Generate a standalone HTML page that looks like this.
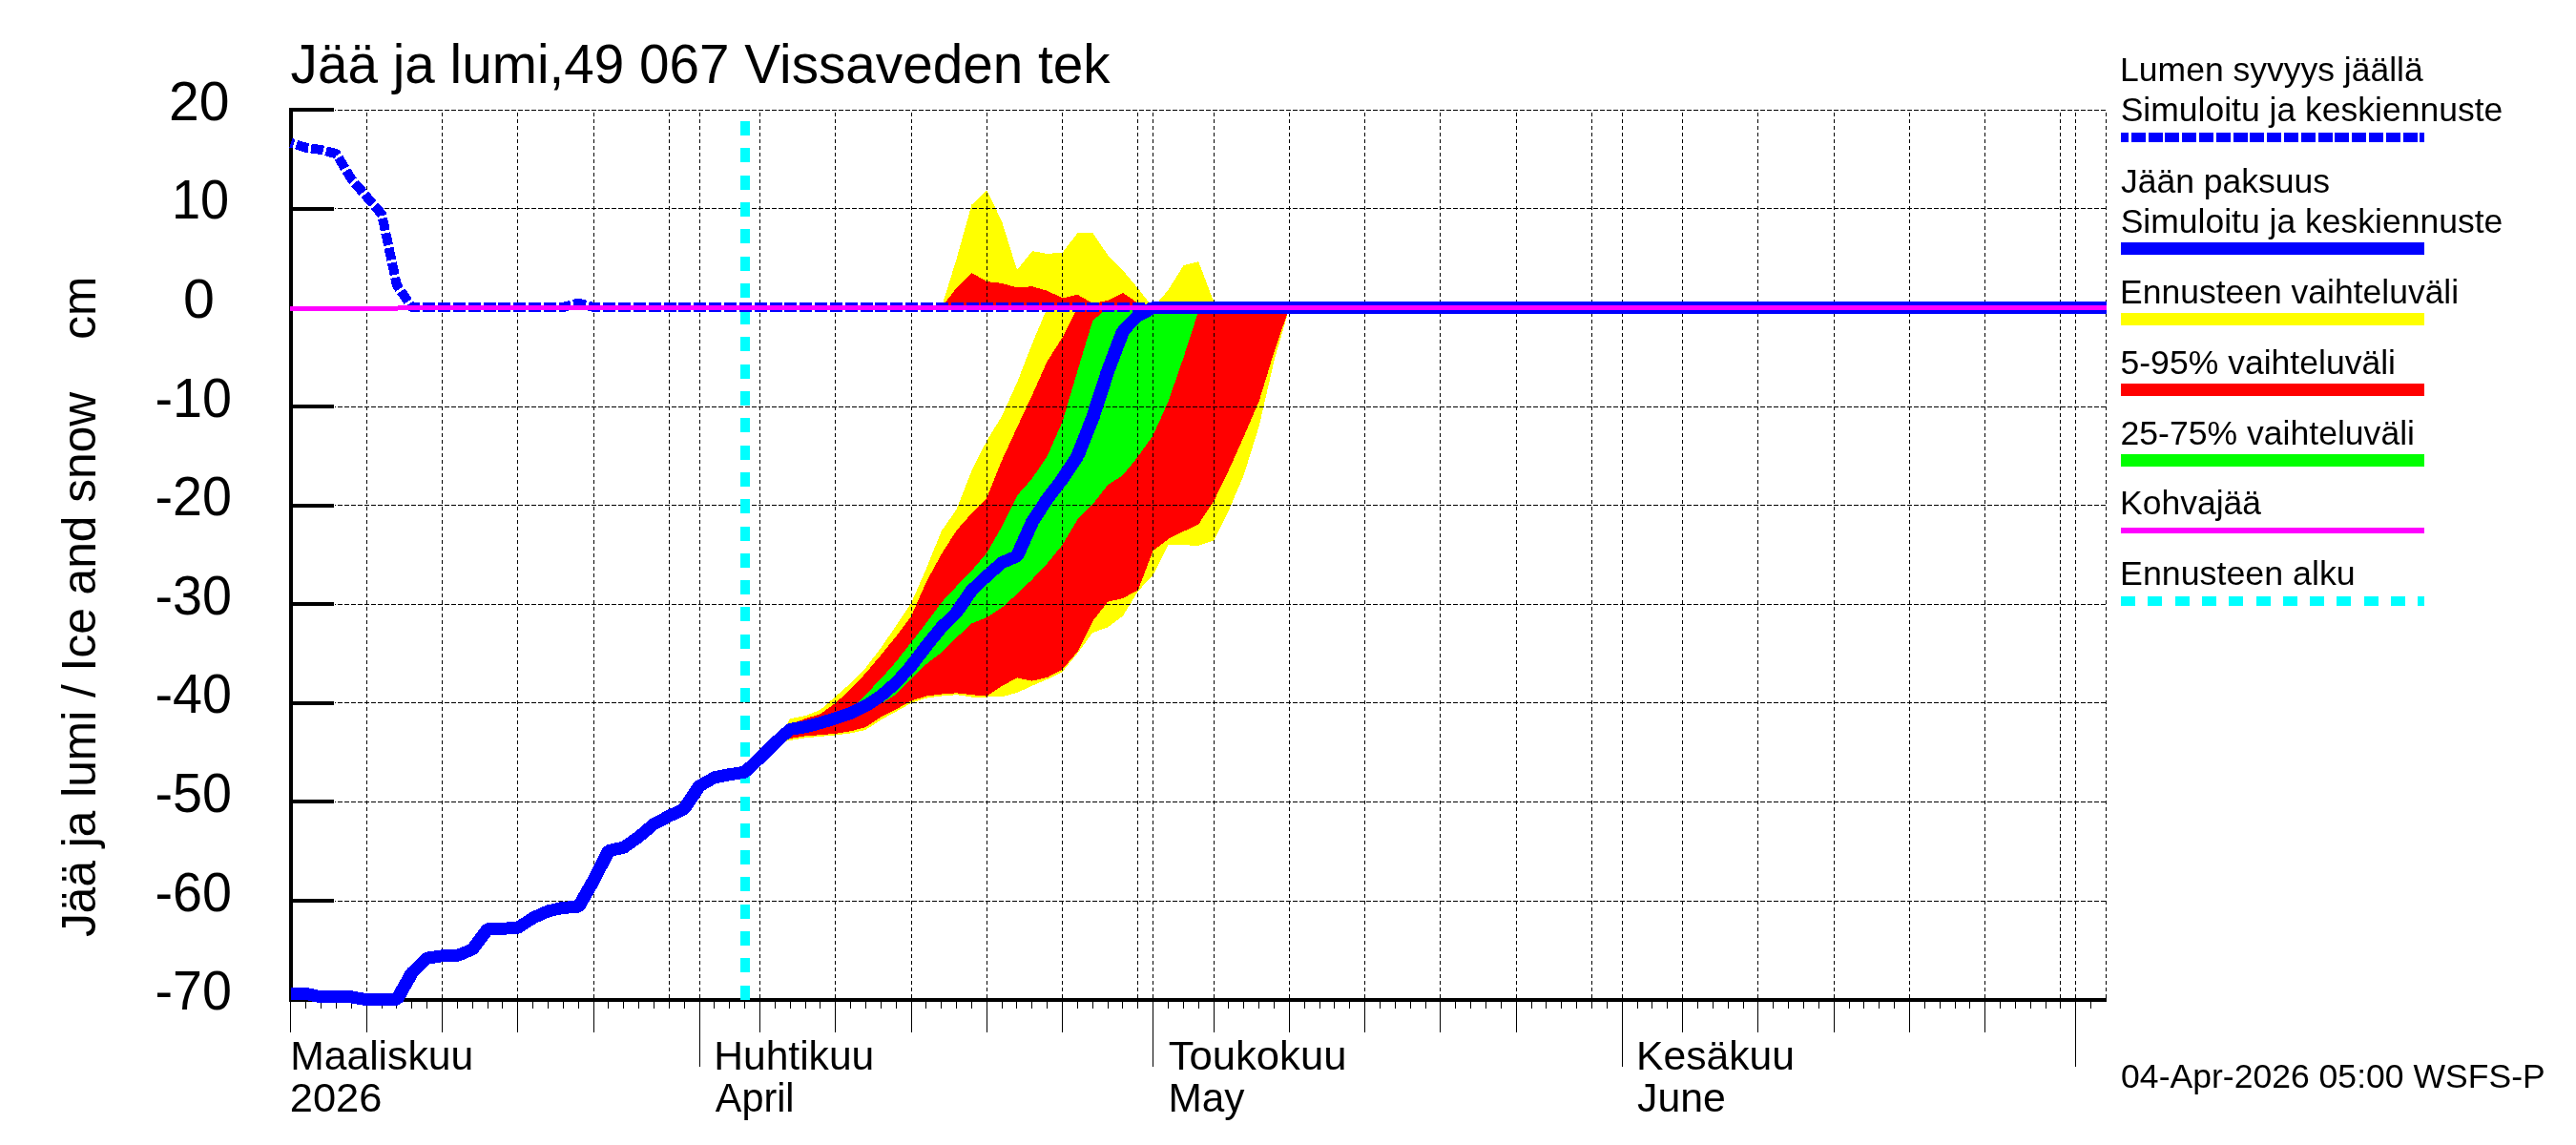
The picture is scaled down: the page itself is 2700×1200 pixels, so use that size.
<!DOCTYPE html>
<html lang="fi"><head><meta charset="utf-8"><title>Jää ja lumi, 49 067 Vissaveden tek</title>
<style>html,body{margin:0;padding:0;background:#fff;}body{width:2700px;height:1200px;overflow:hidden;}svg{display:block;}text{font-family:"Liberation Sans",sans-serif;fill:#000;}svg{will-change:transform;}</style></head><body>
<svg width="2700" height="1200" viewBox="0 0 2700 1200">
<rect x="0" y="0" width="2700" height="1200" fill="#ffffff"/>
<g shape-rendering="crispEdges">
<polygon points="812.3,778.6 828.2,753.3 844.0,750.2 859.9,743.9 875.7,729.9 891.6,716.0 907.4,699.9 923.3,678.9 939.2,655.9 955.0,632.0 970.9,596.0 986.7,556.6 1002.6,533.8 1018.4,493.3 1034.3,462.0 1050.1,436.0 1066.0,401.0 1081.8,360.3 1097.7,322.5 1351.4,322.5 1351.4,322.5 1335.5,378.0 1319.7,446.5 1303.8,497.5 1288.0,534.8 1272.1,566.5 1256.2,571.9 1240.4,571.2 1224.5,571.2 1208.7,602.4 1192.8,619.6 1177.0,645.5 1161.1,657.5 1145.3,663.0 1129.4,684.5 1113.6,704.0 1097.7,712.0 1081.8,718.7 1066.0,726.0 1050.1,730.3 1034.3,730.5 1018.4,730.5 1002.6,728.2 986.7,729.5 970.9,731.6 955.0,737.0 939.2,745.7 923.3,754.4 907.4,764.9 891.6,768.4 875.7,770.5 859.9,771.9 844.0,773.3 828.2,776.0 812.3,778.6" fill="#ffff00"/>
<polygon points="812.3,778.6 828.2,759.0 844.0,753.3 859.9,748.1 875.7,736.9 891.6,722.2 907.4,705.5 923.3,686.6 939.2,667.0 955.0,646.0 970.9,610.0 986.7,580.9 1002.6,555.8 1018.4,538.0 1034.3,522.0 1050.1,482.5 1066.0,448.0 1081.8,414.1 1097.7,378.5 1113.6,353.6 1129.4,322.5 1351.4,322.5 1351.4,322.5 1335.5,368.7 1319.7,420.4 1303.8,457.3 1288.0,492.6 1272.1,525.5 1256.2,549.5 1240.4,557.0 1224.5,565.0 1208.7,577.0 1192.8,618.4 1177.0,627.0 1161.1,630.7 1145.3,651.0 1129.4,683.0 1113.6,701.5 1097.7,710.0 1081.8,713.6 1066.0,710.4 1050.1,719.0 1034.3,729.6 1018.4,728.2 1002.6,726.3 986.7,727.5 970.9,729.5 955.0,734.5 939.2,743.5 923.3,751.6 907.4,762.1 891.6,766.3 875.7,768.8 859.9,770.2 844.0,771.4 828.2,774.0 812.3,778.6" fill="#ff0000"/>
<polygon points="875.7,752.8 891.6,745.0 907.4,727.8 923.3,711.5 939.2,693.5 955.0,673.3 970.9,653.0 986.7,631.5 1002.6,614.4 1018.4,598.0 1034.3,579.5 1050.1,552.0 1066.0,519.5 1081.8,501.5 1097.7,478.0 1113.6,441.8 1129.4,388.5 1145.3,336.0 1161.1,322.5 1272.1,322.5 1272.1,322.5 1256.2,326.0 1240.4,375.0 1224.5,420.8 1208.7,456.0 1192.8,478.5 1177.0,498.0 1161.1,508.2 1145.3,528.5 1129.4,544.5 1113.6,571.0 1097.7,590.5 1081.8,607.3 1066.0,622.5 1050.1,636.8 1034.3,647.0 1018.4,653.5 1002.6,668.2 986.7,684.0 970.9,696.0 955.0,711.3 939.2,727.8 923.3,737.6 907.4,742.0 891.6,748.0 875.7,752.8" fill="#00ff00"/>
<polygon points="986.7,322.5 1002.6,271.3 1018.4,214.6 1034.3,199.1 1050.1,232.2 1066.0,283.0 1081.8,263.2 1097.7,265.9 1113.6,264.8 1129.4,244.1 1145.3,244.1 1161.1,267.2 1177.0,283.5 1192.8,302.3 1208.7,322.5 1224.5,303.9 1240.4,278.3 1256.2,274.1 1272.1,316.0 1288.0,322.5 1288.0,322.5 986.7,322.5" fill="#ffff00"/>
<polygon points="986.7,322.5 1002.6,301.5 1018.4,286.0 1034.3,295.0 1050.1,296.9 1066.0,301.5 1081.8,300.2 1097.7,304.7 1113.6,312.4 1129.4,308.8 1145.3,317.8 1161.1,315.0 1177.0,306.9 1192.8,317.8 1208.7,322.5 1208.7,322.5 986.7,322.5" fill="#ff0000"/>
<path d="M384.5,116.0 V1046.0 M463.5,116.0 V1046.0 M542.5,116.0 V1046.0 M622.5,116.0 V1046.0 M701.5,116.0 V1046.0 M733.5,116.0 V1046.0 M796.5,116.0 V1046.0 M875.5,116.0 V1046.0 M955.5,116.0 V1046.0 M1034.5,116.0 V1046.0 M1113.5,116.0 V1046.0 M1192.5,116.0 V1046.0 M1208.5,116.0 V1046.0 M1272.5,116.0 V1046.0 M1351.5,116.0 V1046.0 M1430.5,116.0 V1046.0 M1509.5,116.0 V1046.0 M1589.5,116.0 V1046.0 M1668.5,116.0 V1046.0 M1700.5,116.0 V1046.0 M1763.5,116.0 V1046.0 M1842.5,116.0 V1046.0 M1922.5,116.0 V1046.0 M2001.5,116.0 V1046.0 M2080.5,116.0 V1046.0 M2159.5,116.0 V1046.0 M2175.5,116.0 V1046.0 M2207.5,116.0 V1046.0" stroke="#000" stroke-width="1" fill="none" stroke-dasharray="4 3" stroke-dashoffset="5"/>
<path d="M351.0,115.5 H2208.0 M351.0,218.5 H2208.0 M351.0,322.5 H2208.0 M351.0,426.5 H2208.0 M351.0,529.5 H2208.0 M351.0,633.5 H2208.0 M351.0,736.5 H2208.0 M351.0,840.5 H2208.0 M351.0,944.5 H2208.0" stroke="#000" stroke-width="1" fill="none" stroke-dasharray="5 2" stroke-dashoffset="4"/>
<rect x="303" y="113" width="4" height="937" fill="#000"/>
<rect x="303" y="1046" width="1905" height="4" fill="#000"/>
<rect x="303" y="113" width="47" height="4" fill="#000"/>
<rect x="303" y="217" width="47" height="4" fill="#000"/>
<rect x="303" y="424" width="47" height="4" fill="#000"/>
<rect x="303" y="528" width="47" height="4" fill="#000"/>
<rect x="303" y="631" width="47" height="4" fill="#000"/>
<rect x="303" y="735" width="47" height="4" fill="#000"/>
<rect x="303" y="838" width="47" height="4" fill="#000"/>
<rect x="303" y="942" width="47" height="4" fill="#000"/>
<path d="M304.5,1050 V1082 M320.5,1050 V1057 M336.5,1050 V1057 M352.5,1050 V1057 M368.5,1050 V1057 M384.5,1050 V1082 M400.5,1050 V1057 M415.5,1050 V1057 M431.5,1050 V1057 M447.5,1050 V1057 M463.5,1050 V1082 M479.5,1050 V1057 M495.5,1050 V1057 M511.5,1050 V1057 M526.5,1050 V1057 M542.5,1050 V1082 M558.5,1050 V1057 M574.5,1050 V1057 M590.5,1050 V1057 M606.5,1050 V1057 M622.5,1050 V1082 M637.5,1050 V1057 M653.5,1050 V1057 M669.5,1050 V1057 M685.5,1050 V1057 M701.5,1050 V1057 M717.5,1050 V1057 M733.5,1050 V1118 M748.5,1050 V1057 M764.5,1050 V1057 M780.5,1050 V1057 M796.5,1050 V1082 M812.5,1050 V1057 M828.5,1050 V1057 M844.5,1050 V1057 M859.5,1050 V1057 M875.5,1050 V1082 M891.5,1050 V1057 M907.5,1050 V1057 M923.5,1050 V1057 M939.5,1050 V1057 M955.5,1050 V1082 M970.5,1050 V1057 M986.5,1050 V1057 M1002.5,1050 V1057 M1018.5,1050 V1057 M1034.5,1050 V1082 M1050.5,1050 V1057 M1065.5,1050 V1057 M1081.5,1050 V1057 M1097.5,1050 V1057 M1113.5,1050 V1082 M1129.5,1050 V1057 M1145.5,1050 V1057 M1161.5,1050 V1057 M1176.5,1050 V1057 M1192.5,1050 V1057 M1208.5,1050 V1118 M1224.5,1050 V1057 M1240.5,1050 V1057 M1256.5,1050 V1057 M1272.5,1050 V1082 M1287.5,1050 V1057 M1303.5,1050 V1057 M1319.5,1050 V1057 M1335.5,1050 V1057 M1351.5,1050 V1082 M1367.5,1050 V1057 M1383.5,1050 V1057 M1398.5,1050 V1057 M1414.5,1050 V1057 M1430.5,1050 V1082 M1446.5,1050 V1057 M1462.5,1050 V1057 M1478.5,1050 V1057 M1494.5,1050 V1057 M1509.5,1050 V1082 M1525.5,1050 V1057 M1541.5,1050 V1057 M1557.5,1050 V1057 M1573.5,1050 V1057 M1589.5,1050 V1082 M1605.5,1050 V1057 M1620.5,1050 V1057 M1636.5,1050 V1057 M1652.5,1050 V1057 M1668.5,1050 V1057 M1684.5,1050 V1057 M1700.5,1050 V1118 M1716.5,1050 V1057 M1731.5,1050 V1057 M1747.5,1050 V1057 M1763.5,1050 V1082 M1779.5,1050 V1057 M1795.5,1050 V1057 M1811.5,1050 V1057 M1827.5,1050 V1057 M1842.5,1050 V1082 M1858.5,1050 V1057 M1874.5,1050 V1057 M1890.5,1050 V1057 M1906.5,1050 V1057 M1922.5,1050 V1082 M1938.5,1050 V1057 M1953.5,1050 V1057 M1969.5,1050 V1057 M1985.5,1050 V1057 M2001.5,1050 V1082 M2017.5,1050 V1057 M2033.5,1050 V1057 M2049.5,1050 V1057 M2064.5,1050 V1057 M2080.5,1050 V1082 M2096.5,1050 V1057 M2112.5,1050 V1057 M2128.5,1050 V1057 M2144.5,1050 V1057 M2159.5,1050 V1057 M2175.5,1050 V1118 M2191.5,1050 V1057" stroke="#000" stroke-width="1" fill="none"/>
</g>
<g shape-rendering="crispEdges" fill="none">
<path d="M781,1047.6 V116" stroke="#00ffff" stroke-width="10" stroke-dasharray="15 13.3"/>
<polyline points="304.9,149.8 320.8,154.8 336.7,157.0 352.5,161.2 368.4,187.8 384.2,206.1 400.1,224.5 415.9,298.8 431.8,322.0 590.3,322.0 606.2,317.5 622.0,322.0 1224.5,322.0" stroke="#0000ff" stroke-width="10" stroke-dasharray="13 2.855" stroke-dashoffset="9.75" stroke-linejoin="round"/>
<polyline points="304.9,1041.4 320.8,1041.4 336.7,1044.9 352.5,1044.9 368.4,1044.9 384.2,1047.7 400.1,1047.7 415.9,1047.7 431.8,1019.4 447.6,1004.1 463.5,1001.8 479.4,1001.4 495.2,995.0 511.1,973.6 526.9,973.2 542.8,972.4 558.6,962.0 574.5,954.9 590.3,951.2 606.2,950.6 622.0,923.0 637.9,891.5 653.8,888.2 669.6,877.0 685.5,863.4 701.3,855.3 717.2,847.6 733.0,823.8 748.9,814.8 764.7,811.7 780.6,809.2 796.5,794.5 812.3,778.6 828.2,764.4 844.0,761.7 859.9,757.7 875.7,752.8 891.6,747.5 907.4,739.8 923.3,729.3 939.2,715.5 955.0,697.9 970.9,677.0 986.7,657.5 1002.6,641.7 1018.4,618.6 1034.3,603.7 1050.1,589.7 1066.0,582.9 1081.8,547.3 1097.7,522.8 1113.6,502.0 1129.4,478.0 1145.3,437.8 1161.1,389.0 1177.0,347.0 1192.8,330.7 1208.7,322.6 2208.1,322.6" stroke="#0000ff" stroke-width="13" stroke-linejoin="bevel"/>
<path d="M415.9,1047.7 L431.8,1019.4" stroke="#0000ff" stroke-width="13.68"/>
<path d="M495.2,995.0 L511.1,973.6" stroke="#0000ff" stroke-width="13.37"/>
<path d="M606.2,950.6 L622.0,923.0" stroke="#0000ff" stroke-width="13.66"/>
<path d="M622.0,923.0 L637.9,891.5" stroke="#0000ff" stroke-width="13.79"/>
<path d="M717.2,847.6 L733.0,823.8" stroke="#0000ff" stroke-width="13.49"/>
<path d="M955.0,697.9 L970.9,677.0" stroke="#0000ff" stroke-width="13.34"/>
<path d="M970.9,677.0 L986.7,657.5" stroke="#0000ff" stroke-width="13.26"/>
<path d="M1002.6,641.7 L1018.4,618.6" stroke="#0000ff" stroke-width="13.46"/>
<path d="M1066.0,582.9 L1081.8,547.3" stroke="#0000ff" stroke-width="13.91"/>
<path d="M1081.8,547.3 L1097.7,522.8" stroke="#0000ff" stroke-width="13.52"/>
<path d="M1097.7,522.8 L1113.6,502.0" stroke="#0000ff" stroke-width="13.33"/>
<path d="M1113.6,502.0 L1129.4,478.0" stroke="#0000ff" stroke-width="13.50"/>
<path d="M1129.4,478.0 L1145.3,437.8" stroke="#0000ff" stroke-width="14.02"/>
<path d="M1145.3,437.8 L1161.1,389.0" stroke="#0000ff" stroke-width="14.17"/>
<path d="M1161.1,389.0 L1177.0,347.0" stroke="#0000ff" stroke-width="14.05"/>
<path d="M304,323.5 H417 M417,322.5 H2208" stroke="#ff00ff" stroke-width="5"/>
</g>
<g shape-rendering="crispEdges" fill="none">
<path d="M2223,144 H2541" stroke="#0000ff" stroke-width="10" stroke-dasharray="15 2.8" stroke-dashoffset="7"/>
<path d="M2223,260.5 H2541" stroke="#0000ff" stroke-width="13"/>
<path d="M2223,334.5 H2541" stroke="#ffff00" stroke-width="13"/>
<path d="M2223,408.5 H2541" stroke="#ff0000" stroke-width="13"/>
<path d="M2223,482 H2541" stroke="#00ff00" stroke-width="13"/>
<path d="M2223,556 H2541" stroke="#ff00ff" stroke-width="6"/>
<path d="M2223,630 H2541" stroke="#00ffff" stroke-width="10" stroke-dasharray="15 13.3"/>
</g>
<text id="title" x="304.60" y="87.00" font-size="57.10" textLength="859.01" lengthAdjust="spacingAndGlyphs">Jää ja lumi,49 067 Vissaveden tek</text>
<text id="yt20" x="177.00" y="125.70" font-size="57.10" textLength="63.53" lengthAdjust="spacingAndGlyphs">20</text>
<text id="yt10" x="180.00" y="228.70" font-size="57.10" textLength="60.21" lengthAdjust="spacingAndGlyphs">10</text>
<text id="yt0" x="192.00" y="332.70" font-size="57.10" textLength="32.95" lengthAdjust="spacingAndGlyphs">0</text>
<text id="ytm10" x="162.50" y="436.70" font-size="57.10" textLength="80.42" lengthAdjust="spacingAndGlyphs">-10</text>
<text id="ytm20" x="162.50" y="539.70" font-size="57.10" textLength="80.42" lengthAdjust="spacingAndGlyphs">-20</text>
<text id="ytm30" x="162.50" y="643.70" font-size="57.10" textLength="80.42" lengthAdjust="spacingAndGlyphs">-30</text>
<text id="ytm40" x="162.50" y="746.70" font-size="57.10" textLength="80.42" lengthAdjust="spacingAndGlyphs">-40</text>
<text id="ytm50" x="162.50" y="850.70" font-size="57.10" textLength="80.42" lengthAdjust="spacingAndGlyphs">-50</text>
<text id="ytm60" x="162.50" y="954.70" font-size="57.10" textLength="80.42" lengthAdjust="spacingAndGlyphs">-60</text>
<text id="ytm70" x="162.50" y="1057.70" font-size="57.10" textLength="80.42" lengthAdjust="spacingAndGlyphs">-70</text>
<text id="ylab" transform="translate(99.5,982.00) rotate(-90)" font-size="50.7" xml:space="preserve" textLength="692.44" lengthAdjust="spacingAndGlyphs">Jää ja lumi / Ice and snow    cm</text>
<text id="m1" x="304.20" y="1120.80" font-size="42.70" textLength="191.97" lengthAdjust="spacingAndGlyphs">Maaliskuu</text>
<text id="m1b" x="303.80" y="1164.60" font-size="42.70" textLength="96.65" lengthAdjust="spacingAndGlyphs">2026</text>
<text id="m2" x="748.20" y="1120.80" font-size="42.70" textLength="168.09" lengthAdjust="spacingAndGlyphs">Huhtikuu</text>
<text id="m2b" x="749.80" y="1164.60" font-size="42.70" textLength="82.76" lengthAdjust="spacingAndGlyphs">April</text>
<text id="m3" x="1224.80" y="1120.80" font-size="42.70" textLength="186.60" lengthAdjust="spacingAndGlyphs">Toukokuu</text>
<text id="m3b" x="1224.50" y="1164.60" font-size="42.70" textLength="80.04" lengthAdjust="spacingAndGlyphs">May</text>
<text id="m4" x="1715.10" y="1120.80" font-size="42.70" textLength="165.72" lengthAdjust="spacingAndGlyphs">Kesäkuu</text>
<text id="m4b" x="1716.00" y="1164.60" font-size="42.70" textLength="92.81" lengthAdjust="spacingAndGlyphs">June</text>
<text id="l1" x="2222.10" y="84.80" font-size="35.50" textLength="317.67" lengthAdjust="spacingAndGlyphs">Lumen syvyys jäällä</text>
<text id="l2" x="2222.70" y="126.70" font-size="35.50" textLength="400.58" lengthAdjust="spacingAndGlyphs">Simuloitu ja keskiennuste</text>
<text id="l3" x="2222.90" y="201.50" font-size="35.50" textLength="219.26" lengthAdjust="spacingAndGlyphs">Jään paksuus</text>
<text id="l4" x="2222.70" y="243.90" font-size="35.50" textLength="400.58" lengthAdjust="spacingAndGlyphs">Simuloitu ja keskiennuste</text>
<text id="l5" x="2222.10" y="318.30" font-size="35.50" textLength="355.05" lengthAdjust="spacingAndGlyphs">Ennusteen vaihteluväli</text>
<text id="l6" x="2222.50" y="392.30" font-size="35.50" textLength="288.50" lengthAdjust="spacingAndGlyphs">5-95% vaihteluväli</text>
<text id="l7" x="2222.50" y="465.70" font-size="35.50" textLength="308.49" lengthAdjust="spacingAndGlyphs">25-75% vaihteluväli</text>
<text id="l8" x="2222.10" y="538.90" font-size="35.50" textLength="147.86" lengthAdjust="spacingAndGlyphs">Kohvajää</text>
<text id="l9" x="2222.10" y="613.30" font-size="35.50" textLength="246.57" lengthAdjust="spacingAndGlyphs">Ennusteen alku</text>
<text id="ts" x="2223.10" y="1139.90" font-size="35.50" textLength="444.60" lengthAdjust="spacingAndGlyphs">04-Apr-2026 05:00 WSFS-P</text>
</svg></body></html>
